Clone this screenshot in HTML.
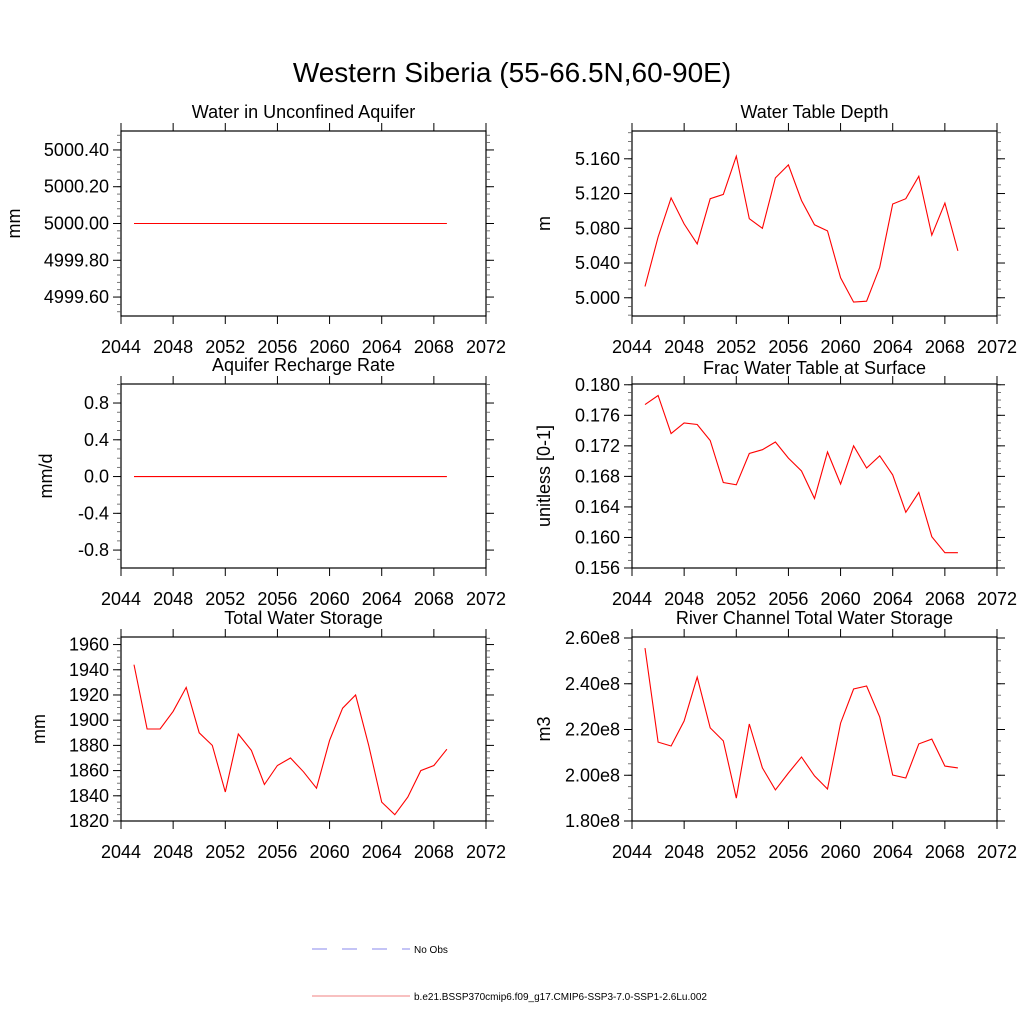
<!DOCTYPE html>
<html><head><meta charset="utf-8"><style>
body{margin:0;background:#fff}
svg{display:block;font-family:"Liberation Sans",sans-serif}
</style></head><body>
<svg id="chart" width="1024" height="1024" viewBox="0 0 1024 1024">
<text x="512" y="82" text-anchor="middle" font-size="28">Western Siberia (55-66.5N,60-90E)</text>
<g>
<line x1="312" y1="949" x2="410" y2="949" stroke="#8888ee" stroke-dasharray="15,15"/>
<text x="414" y="953" font-size="10">No Obs</text>
<line x1="312" y1="996" x2="410" y2="996" stroke="#f08080"/>
<text x="414" y="1000" font-size="10">b.e21.BSSP370cmip6.f09_g17.CMIP6-SSP3-7.0-SSP1-2.6Lu.002</text>
</g>
</svg>
<script>
const years=[2045,2046,2047,2048,2049,2050,2051,2052,2053,2054,2055,2056,2057,2058,2059,2060,2061,2062,2063,2064,2065,2066,2067,2068,2069];
const xTicks=[2044,2048,2052,2056,2060,2064,2068,2072];
const aquiferWater=[5000,5000,5000,5000,5000,5000,5000,5000,5000,5000,5000,5000,5000,5000,5000,5000,5000,5000,5000,5000,5000,5000,5000,5000,5000];
const rechargeRate=[0,0,0,0,0,0,0,0,0,0,0,0,0,0,0,0,0,0,0,0,0,0,0,0,0];
const totalStorage=[1944,1893,1893,1907,1926,1890,1880,1843,1889,1876,1849,1864,1870,1859,1846,1884,1909.5,1920,1880,1835,1825,1839,1860,1864,1877];
const waterTableDepth=[5.013,5.070,5.115,5.085,5.062,5.114,5.119,5.163,5.091,5.080,5.138,5.153,5.112,5.084,5.077,5.023,4.995,4.996,5.035,5.108,5.114,5.140,5.072,5.109,5.054];
const fracSurface=[0.1774,0.1786,0.1736,0.1750,0.1748,0.1727,0.1672,0.1669,0.1710,0.1715,0.1725,0.1704,0.1687,0.1651,0.1712,0.1670,0.1720,0.1691,0.1707,0.1682,0.1633,0.1659,0.1601,0.1580,0.1580];
const riverStorage=[2.556e8,2.145e8,2.128e8,2.237e8,2.429e8,2.207e8,2.150e8,1.900e8,2.224e8,2.032e8,1.936e8,2.010e8,2.080e8,1.997e8,1.940e8,2.228e8,2.377e8,2.390e8,2.255e8,2.001e8,1.988e8,2.137e8,2.158e8,2.040e8,2.032e8];
const ticksTL=[4999.6,4999.8,5000.0,5000.2,5000.4];
const ticksML=[-0.8,-0.4,0,0.4,0.8];
const ticksBL=[1820,1840,1860,1880,1900,1920,1940,1960];
const ticksTR=[5.0,5.04,5.08,5.12,5.16];
const ticksMR=[0.156,0.16,0.164,0.168,0.172,0.176,0.18];
const ticksBR=[1.8e8,2.0e8,2.2e8,2.4e8,2.6e8];

const NS='http://www.w3.org/2000/svg';
const svg=document.getElementById('chart');
function mk(tag,attrs,parent){const e=document.createElementNS(NS,tag);for(const k in attrs)e.setAttribute(k,attrs[k]);parent.appendChild(e);return e;}

const panels=[
{key:'water-unconfined-aquifer',title:'Water in Unconfined Aquifer',x0:121,x1:486,y0:131,y1:316,ymin:4999.497,ymax:5000.503,ticks:ticksTL,minorN:5,fmt:v=>v.toFixed(2),data:aquiferWater,ylab:'mm',ylx:20,ty:118},
{key:'aquifer-recharge-rate',title:'Aquifer Recharge Rate',x0:121,x1:486,y0:384,y1:568,ymin:-0.995,ymax:1.007,ticks:ticksML,minorN:4,fmt:v=>v.toFixed(1),data:rechargeRate,ylab:'mm/d',ylx:52,ty:371},
{key:'total-water-storage',title:'Total Water Storage',x0:121,x1:486,y0:637,y1:821,ymin:1820,ymax:1966,ticks:ticksBL,minorN:4,fmt:v=>v.toFixed(0),data:totalStorage,ylab:'mm',ylx:45,ty:624},
{key:'water-table-depth',title:'Water Table Depth',x0:632,x1:997,y0:131,y1:316,ymin:4.979,ymax:5.192,ticks:ticksTR,minorN:4,fmt:v=>v.toFixed(3),data:waterTableDepth,ylab:'m',ylx:550,ty:118},
{key:'frac-water-table-surface',title:'Frac Water Table at Surface',x0:632,x1:997,y0:384,y1:568,ymin:0.156,ymax:0.1801,ticks:ticksMR,minorN:4,fmt:v=>v.toFixed(3),data:fracSurface,ylab:'unitless [0-1]',ylx:550,ty:374},
{key:'river-channel-storage',title:'River Channel Total Water Storage',x0:632,x1:997,y0:637,y1:821,ymin:1.8e8,ymax:2.6e8+0.0044e8,ticks:ticksBR,minorN:4,fmt:v=>(v/1e8).toFixed(2)+'e8',data:riverStorage,ylab:'m3',ylx:550,ty:624}
];

panels.forEach(p=>{
  const g=mk('g',{},svg);
  
  
  const X=v=>p.x0+(v-2044)/(2072-2044)*(p.x1-p.x0);
  const Y=v=>p.y1-(v-p.ymin)/(p.ymax-p.ymin)*(p.y1-p.y0);
  const fr=mk('rect',{x:p.x0,y:p.y0,width:p.x1-p.x0,height:p.y1-p.y0,fill:'none',stroke:'#000','stroke-width':1.2},g);
  
  
  const t=mk('text',{x:(p.x0+p.x1)/2,y:p.ty,'text-anchor':'middle','font-size':18},g);
  t.textContent=p.title;
  
  
  // x ticks
  xTicks.forEach(v=>{
    const x=X(v);
    mk('line',{x1:x,y1:p.y1,x2:x,y2:p.y1+8,stroke:'#000'},g);
    mk('line',{x1:x,y1:p.y0,x2:x,y2:p.y0-8,stroke:'#000'},g);
    const l=mk('text',{x:x,y:p.y1+37,'text-anchor':'middle','font-size':18},g);
    l.textContent=v;
    
    
  });
  // y ticks
  const step=p.ticks[1]-p.ticks[0];
  const ms=step/p.minorN;
  for(let v=p.ticks[0]-step;v<=p.ticks[p.ticks.length-1]+step+1e-12;v+=ms){
    if(v<p.ymin||v>p.ymax)continue;
    const y=Y(v);
    mk('line',{x1:p.x0,y1:y,x2:p.x0-4,y2:y,stroke:'#555','stroke-width':0.8},g);
    mk('line',{x1:p.x1,y1:y,x2:p.x1+4,y2:y,stroke:'#555','stroke-width':0.8},g);
  }
  p.ticks.forEach(v=>{
    const y=Y(v);
    mk('line',{x1:p.x0,y1:y,x2:p.x0-8,y2:y,stroke:'#000'},g);
    mk('line',{x1:p.x1,y1:y,x2:p.x1+8,y2:y,stroke:'#000'},g);
    const l=mk('text',{x:p.x0-12,y:y+6,'text-anchor':'end','font-size':18},g);
    l.textContent=p.fmt(v);
    
    
  });
  const yl=mk('text',{x:p.ylx,y:(p.y0+p.y1)/2,'text-anchor':'middle','font-size':18,transform:`rotate(-90 ${p.ylx} ${(p.y0+p.y1)/2})`},g);
  yl.textContent=p.ylab;
  
  
  const pts=years.map((yr,i)=>X(yr).toFixed(1)+','+Y(p.data[i]).toFixed(1)).join(' ');
  const line=mk('polyline',{points:pts,fill:'none',stroke:'#ff0000','stroke-width':1.1},g);
  
  
});
</script>
</body></html>
